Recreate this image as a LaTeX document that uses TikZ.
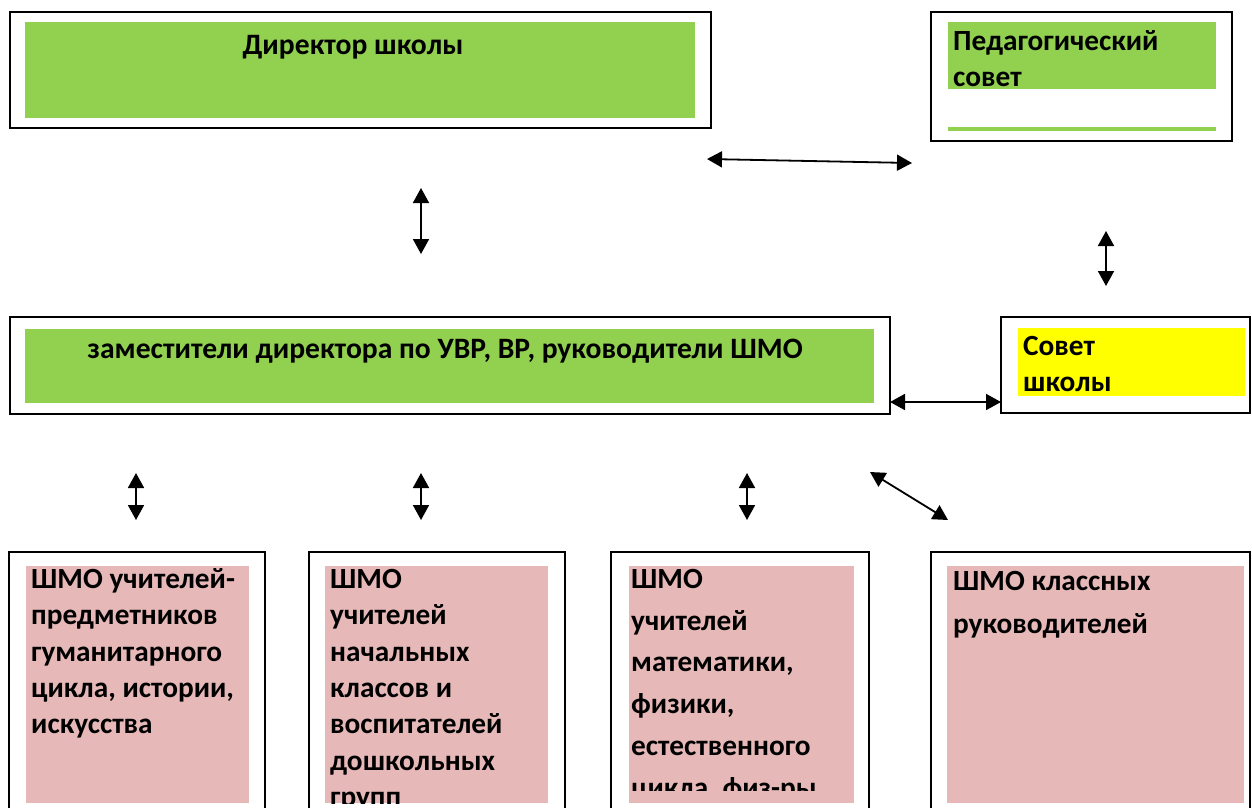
\documentclass[tikz,border=0pt]{standalone}
\usepackage{fontspec}
\setmainfont{Carlito}
\usetikzlibrary{positioning,calc,fit,arrows.meta}
\definecolor{boxgreen}{RGB}{146,208,80}
\definecolor{boxpink}{RGB}{230,185,184}
\definecolor{boxyellow}{RGB}{255,255,0}
\newcommand{\orgbox}[4]{
	\node[frame_box, fit={#2}] (#1) {};
	\node[fill=#4, inner sep=0pt, outer sep=0pt, fit={#3}] (#1_in) {};
}
\newcommand{\lead}{\rule{0pt}{24pt}}

\begin{document}
\begin{tikzpicture}[x=1pt,y=-1pt]
		\tikzstyle{frame_box}=[draw, line width=2pt, inner sep=0pt, outer sep=0pt];
		\tikzstyle{title}=[anchor=base, inner sep=0pt, font=\fontsize{29.6}{36}\selectfont\bfseries];
		\tikzstyle{entry}=[anchor=north west, align=left, inner sep=0pt, font=\fontsize{29.3}{36.4}\selectfont\bfseries];
		\tikzstyle{link}=[line width=1.8pt, <->, >={Triangle[length=15pt,width=16pt]}];
		
		\useasboundingbox (0,0) rectangle (1252,807);
		\clip (0,0) rectangle (1252,807);
		
		% upper level
		\orgbox{dir}{(10,12) (711,128)}{(25,22) (695,118)}{boxgreen}
		\node[title] (dir_t) at (353,54) {Директор школы};
		
		\orgbox{ped}{(931,12) (1232,141)}{(948,22) (1216,89)}{boxgreen}
		\node[fill=boxgreen, inner sep=0pt, fit={(948,127) (1216,131)}] (ped_line) {};
		\node[entry] (ped_t) at (953,26) {\lead Педагогический\\совет};
		
		% middle level
		\orgbox{dep}{(10,317) (890,414)}{(25,329) (874,403)}{boxgreen}
		\node[title] (dep_t) at (445,358) {заместители директора по УВР, ВР, руководители ШМО};
		
		\orgbox{sov}{(1001,317) (1250,413)}{(1018,328) (1245,396)}{boxyellow}
		\node[entry] (sov_t) at (1023,331) {\lead Совет\\школы};
		
		% lower level
		\orgbox{hum}{(9,552) (265,815)}{(26,566) (249,803)}{boxpink}
		\node[entry] (hum_t) at (31,564) {\lead ШМО учителей-\\предметников\\гуманитарного\\цикла, истории,\\искусства};
		
		\orgbox{prim}{(309,552) (565,815)}{(325,566) (548,803)}{boxpink}
		\begin{scope}
			\clip (325,566) rectangle (548,803);
			\node[entry] (prim_t) at (330,564) {\lead ШМО\\учителей\\начальных\\классов и\\воспитателей\\дошкольных\\групп};
		\end{scope}
		
		\orgbox{sci}{(611,552) (869,815)}{(629,566) (854,803)}{boxpink}
		\begin{scope}
			\clip (629,566) rectangle (854,790);
			\node[entry, font=\fontsize{29.3}{41.8}\selectfont\bfseries] (sci_t) at (631,564) {\lead ШМО\\учителей\\математики,\\физики,\\естественного\\цикла, физ-ры};
		\end{scope}
		
		\orgbox{cls}{(931,552) (1250,815)}{(947,566) (1244,803)}{boxpink}
		\node[entry, font=\fontsize{29.3}{43}\selectfont\bfseries] (cls_t) at (953,566) {\lead ШМО классных\\руководителей};
		
		% connectors
		\coordinate (dp_a) at (707,159);
		\coordinate (dp_b) at (912,163);
		\coordinate (dd_a) at (421,188);
		\coordinate (dd_b) at (421,254);
		\coordinate (ps_a) at (1106,231);
		\coordinate (ps_b) at (1106,286);
		\coordinate (h_a) at (136,473);
		\coordinate (h_b) at (136,520);
		\coordinate (p_a) at (421,473);
		\coordinate (p_b) at (421,520);
		\coordinate (s_a) at (747,473);
		\coordinate (s_b) at (747,520);
		\coordinate (c_a) at (870,472);
		\coordinate (c_b) at (948,520);
		
		\draw[link] (dp_a) -- (dp_b);
		\draw[link] (dd_a) -- (dd_b);
		\draw[link] (ps_a) -- (ps_b);
		\draw[link] ($(dep.south east)+(0,-12)$) -- ($(sov.south west)+(0,-11)$);
		\draw[link] (h_a) -- (h_b);
		\draw[link] (p_a) -- (p_b);
		\draw[link] (s_a) -- (s_b);
		\draw[link] (c_a) -- (c_b);
\end{tikzpicture}
\end{document}
